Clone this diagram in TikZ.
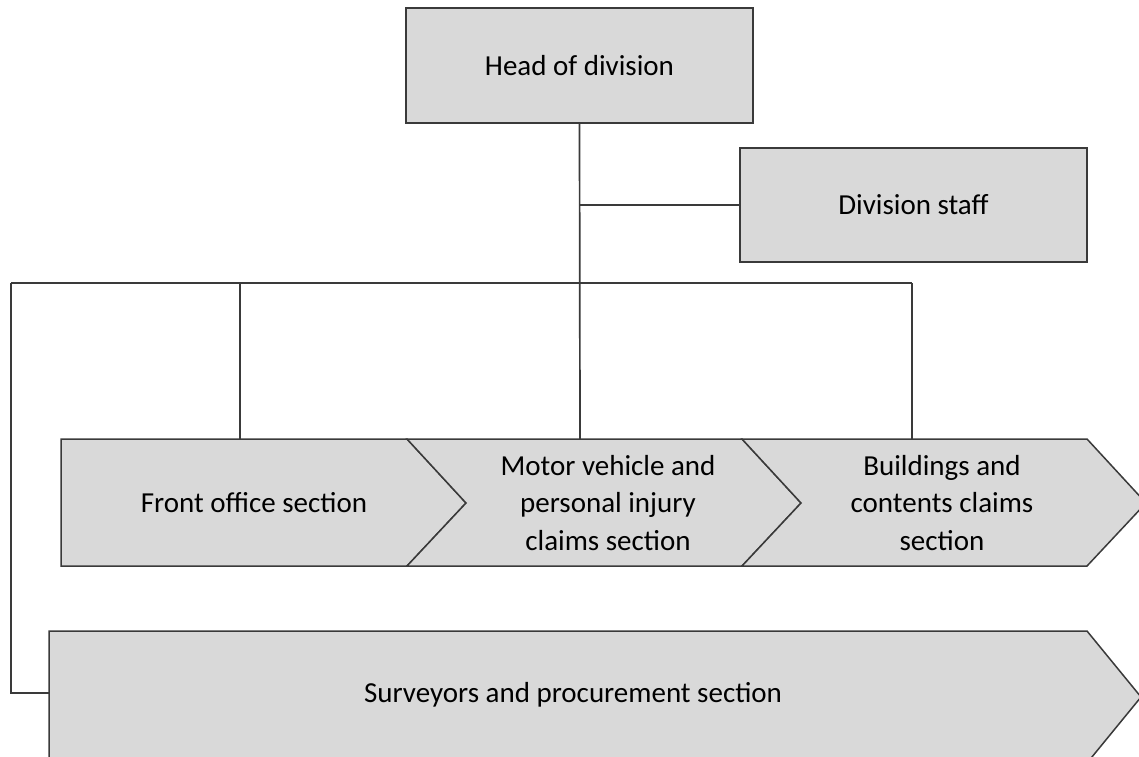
\documentclass[tikz,border=0pt]{standalone}
\usepackage{fontspec}
\setmainfont{Carlito}
\definecolor{boxfill}{HTML}{D9D9D9}
\definecolor{linec}{HTML}{3A3A3A}
\tikzset{
  boxnode/.style={draw=linec, fill=boxfill, line width=2pt, minimum width=347pt, inner sep=0pt},
  shapebox/.style={draw=linec, fill=boxfill, line width=1.5pt, line join=miter},
  lbl/.style={font=\fontsize{29}{37.5}\selectfont, align=center, text=black, inner sep=0pt},
  conn/.style={draw=linec, line width=1.7pt}
}
\begin{document}
\begin{tikzpicture}[x=1pt,y=-1pt]
\useasboundingbox (0,0) rectangle (1139,756);
\clip (0,0) rectangle (1139,756);
% top boxes
\node[boxnode, minimum height=115pt, lbl] (head) at (579.5,65.5) {Head of division};
\node[boxnode, minimum height=114pt, lbl] (staff) at (913.5,205) {Division staff};
% chevrons
\path[shapebox] (61,439) -- (407,439) -- (466,503) -- (407,566) -- (61,566) -- cycle;
\path[shapebox] (407,439) -- (742,439) -- (801,503) -- (742,566) -- (407,566) -- (466,503) -- cycle;
\path[shapebox] (742,439) -- (1087,439) -- (1146,503) -- (1087,566) -- (742,566) -- (801,503) -- cycle;
\path[shapebox] (49,631) -- (1087,631) -- (1141,697) -- (1087,763) -- (49,763) -- cycle;
\node[lbl] (fo) at (254,503) {Front office section};
\node[lbl] (mv) at (608,503) {Motor vehicle and\\personal injury\\claims section};
\node[lbl] (bc) at (942,503) {Buildings and\\contents claims\\section};
\node[lbl] (sv) at (573,695) {Surveyors and procurement section};
% connector coordinates
\coordinate (fotop) at (240,439);
\coordinate (mvtop) at (580,439);
\coordinate (bctop) at (912,439);
\coordinate (svleft) at (49,693);
\coordinate (bus) at (580,283);
\coordinate (busl) at (11,283);
\coordinate (busr) at (912,283);
% connectors
\draw[conn] (head.south) -- (mvtop);
\draw[conn] (head.south |- staff.west) -- (staff.west);
\draw[conn] (busl) -- (busr);
\draw[conn] (fotop |- bus) -- (fotop);
\draw[conn] (busr) -- (bctop);
\draw[conn] (busl) -- (busl |- svleft) -- (svleft);
\end{tikzpicture}
\end{document}
